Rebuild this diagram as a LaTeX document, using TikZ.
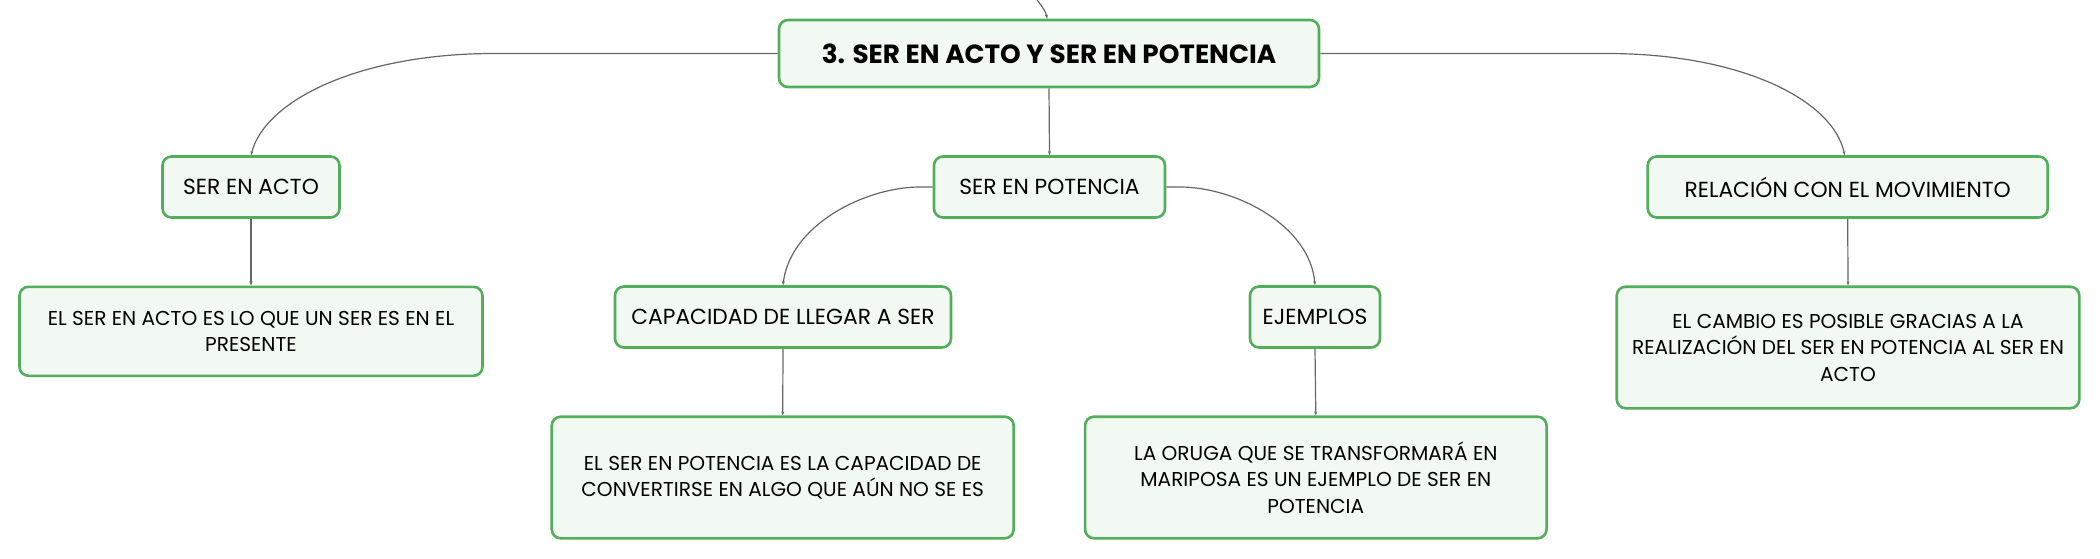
\documentclass[tikz,border=0pt]{standalone}
\usepackage{fontspec}
\setmainfont{Poppins}
\usetikzlibrary{arrows.meta}
\definecolor{boxgreen}{HTML}{52AE5A}
\definecolor{boxfill}{HTML}{F2F9F3}
\definecolor{linkgray}{HTML}{666666}
\begin{document}
\begin{tikzpicture}[x=1pt,y=-1pt,
  box/.style={draw=boxgreen,line width=2.6pt,fill=boxfill,rounded corners=9pt,
    inner sep=0pt,align=center,text=black},
  titlebox/.style={box,font=\fontsize{26.3}{31}\selectfont\bfseries},
  labelbox/.style={box,font=\fontsize{21.8}{26}\selectfont},
  descbox/.style={box,font=\fontsize{20.1}{26.5}\selectfont},
  link/.style={draw=linkgray,line width=1.2pt,-{Stealth[length=4pt,width=3pt]}}
]
\useasboundingbox (0,0) rectangle (2100,559);

\node[titlebox,minimum width=540,minimum height=67] (main) at (1049,53.5) {3. SER EN ACTO Y SER EN POTENCIA};

\node[labelbox,minimum width=177,minimum height=61] (acto) at (251,187) {SER EN ACTO};
\node[labelbox,minimum width=231,minimum height=61] (pot) at (1049.5,187) {SER EN POTENCIA};
\node[labelbox,minimum width=400,minimum height=61] (rel) at (1847.7,187) {RELACIÓN CON EL MOVIMIENTO};

\node[descbox,minimum width=463,minimum height=89] (actodesc) at (251,331.3) {EL SER EN ACTO ES LO QUE UN SER ES EN EL\\PRESENTE};

\node[labelbox,minimum width=336,minimum height=61] (cap) at (783,317) {CAPACIDAD DE LLEGAR A SER};
\node[labelbox,minimum width=130,minimum height=61] (ejem) at (1315,317) {EJEMPLOS};

\node[descbox,minimum width=462,minimum height=121.6] (potdesc) at (782.7,477.5) {EL SER EN POTENCIA ES LA CAPACIDAD DE\\CONVERTIRSE EN ALGO QUE AÚN NO SE ES};
\node[descbox,minimum width=461.5,minimum height=121.6] (oruga) at (1315.8,477.5) {LA ORUGA QUE SE TRANSFORMARÁ EN\\MARIPOSA ES UN EJEMPLO DE SER EN\\POTENCIA};
\node[descbox,minimum width=462.6,minimum height=121.6] (cambio) at (1848,347.5) {EL CAMBIO ES POSIBLE GRACIAS A LA\\REALIZACIÓN DEL SER EN POTENCIA AL SER EN\\ACTO};

\coordinate (topin) at (1037,0);
\draw[link] (topin) .. controls (1042,6) and (1046,12) .. ([xshift=-2pt]main.north);

\draw[link] (main.west) -- (494,53.5) .. controls (360,53.5) and (265,100) .. (acto.north);
\draw[link] (main.east) -- (1607,53.5) .. controls (1741,53.5) and (1833,100) .. ([xshift=-3pt]rel.north);
\draw[link] (main.south) -- (pot.north);

\draw[link] (pot.west) -- (920,187) .. controls (865,187) and (790,225) .. (cap.north);
\draw[link] (pot.east) -- (1180,187) .. controls (1235,187) and (1310,225) .. (ejem.north);

\draw[link] (acto.south) -- (actodesc.north);
\draw[link] (cap.south) -- (potdesc.north);
\draw[link] (ejem.south) -- (oruga.north);
\draw[link] (rel.south) -- (cambio.north);
\end{tikzpicture}
\end{document}
